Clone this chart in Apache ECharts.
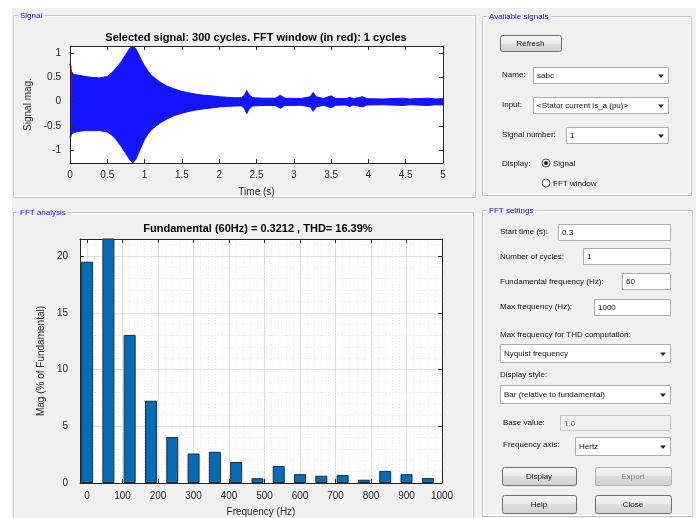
<!DOCTYPE html>
<html><head><meta charset="utf-8">
<script src="https://cdn.jsdelivr.net/npm/echarts@6/dist/echarts.min.js"></script>
<style>
html,body{margin:0;padding:0;background:#fff;overflow:hidden;}
#bg{position:absolute;left:12px;top:8px;width:684px;height:510px;background:#f0f0f0;}
#chart{position:absolute;left:0;top:0;width:696px;height:518px;}
</style></head><body>
<div id="bg"></div><div id="chart"></div>
<script>
// ---- signal envelope (time in s, magnitude) ----
const sigTime  = [0,0.02,0.05,0.1,0.2,0.3,0.4,0.5,0.55,0.6,0.65,0.7,0.75,0.8,0.84,0.88,0.92,0.96,1.0,1.05,1.1,1.2,1.3,1.4,1.5,1.6,1.7,1.8,1.9,2.0,2.1,2.2,2.3,2.34,2.37,2.4,2.45,2.6,2.75,2.82,2.88,3.1,3.22,3.26,3.3,3.4,3.5,3.56,3.7,3.75,3.8,3.92,3.98,4.2,4.47,4.55,4.8,4.9,5.0];
const sigUpper = [0.78,0.62,0.56,0.55,0.52,0.5,0.49,0.52,0.58,0.66,0.75,0.86,0.98,1.1,1.15,1.1,0.98,0.85,0.74,0.62,0.53,0.41,0.32,0.26,0.21,0.18,0.15,0.13,0.12,0.1,0.09,0.08,0.08,0.14,0.23,0.14,0.08,0.07,0.07,0.13,0.07,0.065,0.1,0.19,0.1,0.065,0.12,0.065,0.06,0.09,0.06,0.1,0.06,0.055,0.07,0.055,0.07,0.055,0.06];
const sigLower = [-0.74,-0.68,-0.64,-0.62,-0.6,-0.6,-0.6,-0.63,-0.68,-0.75,-0.85,-0.96,-1.08,-1.2,-1.27,-1.2,-1.06,-0.92,-0.78,-0.66,-0.57,-0.45,-0.36,-0.29,-0.24,-0.2,-0.17,-0.15,-0.13,-0.11,-0.1,-0.09,-0.09,-0.15,-0.25,-0.15,-0.09,-0.08,-0.08,-0.14,-0.08,-0.075,-0.11,-0.2,-0.11,-0.075,-0.13,-0.075,-0.07,-0.1,-0.07,-0.11,-0.07,-0.065,-0.08,-0.065,-0.08,-0.065,-0.07];
// FFT window (in red): 1 cycle
const winTime  = [0, 0.0167];
const winUpper = [0.78, 0.7];
const winLower = [-0.74, -0.7];
// ---- harmonic spectrum (% of fundamental) ----
const harmFreq = [0,60,120,180,240,300,360,420,480,540,600,660,720,780,840,900,960];
const harmMag  = [19.5,100,13.05,7.25,4.05,2.6,2.75,1.85,0.42,1.5,0.78,0.64,0.7,0.29,1.07,0.78,0.43];
// ---- tick labels ----
const timeTicks = [0,0.5,1,1.5,2,2.5,3,3.5,4,4.5,5];
const ampTicks  = [-1,-0.5,0,0.5,1];
const freqTicks = [0,100,200,300,400,500,600,700,800,900,1000];
const magTicks  = [0,5,10,15,20];

const F = '"Liberation Sans", Arial, sans-serif';
const AX = '#262626';
function onlyTicks(list){ return v => list.some(t => Math.abs(t - v) < 1e-9) ? String(v) : ''; }

// ---------- GUI graphics ----------
const G = [];
function panel(x,y,w,h,title){
  G.push({type:'rect', z:5, shape:{x:x+0.5,y:y+0.5,width:w,height:h}, style:{fill:null, stroke:'#c6c6c6', lineWidth:1}});
  G.push({type:'rect', z:5, shape:{x:x+1.5,y:y+1.5,width:w-2,height:h-2}, style:{fill:null, stroke:'#ffffff', lineWidth:1}});
  G.push({type:'text', z:6, x:x+5, y:y+1, style:{text:title, font:'8px '+F, fill:'#2020c0', backgroundColor:'#f0f0f0', padding:[1,2], verticalAlign:'middle'}});
}
function label(x,y,t){ G.push({type:'text', z:6, x:x, y:y, style:{text:t, font:'8px '+F, fill:'#111', verticalAlign:'middle'}}); }
function button(x,y,w,h,t,dis){
  G.push({type:'rect', z:5, shape:{x:x+0.5,y:y+0.5,width:w,height:h,r:2},
    style:{fill:{type:'linear',x:0,y:0,x2:0,y2:1,colorStops:[{offset:0,color:'#f4f4f4'},{offset:0.5,color:'#ebebeb'},{offset:0.5,color:'#dedede'},{offset:1,color:'#d0d0d0'}]},
      stroke: dis ? '#adb2b5' : '#707070', lineWidth:1}});
  G.push({type:'text', z:6, x:x+w/2, y:y+h/2+1, style:{text:t, font:'8px '+F, fill: dis ? '#838383' : '#111', align:'center', verticalAlign:'middle'}});
}
function edit(x,y,w,h,t,dis){
  G.push({type:'rect', z:5, shape:{x:x+0.5,y:y+0.5,width:w,height:h}, style:{fill: dis ? '#f0f0f0' : '#ffffff', stroke: dis ? '#bfc4c9' : '#abadb3', lineWidth:1}});
  G.push({type:'text', z:6, x:x+4, y:y+h/2+1, style:{text:t, font:'8px '+F, fill: dis ? '#6d6d6d' : '#111', verticalAlign:'middle'}});
}
function popup(x,y,w,h,t){
  G.push({type:'rect', z:5, shape:{x:x+0.5,y:y+0.5,width:w,height:h}, style:{fill:'#ffffff', stroke:'#acacac', lineWidth:1}});
  G.push({type:'text', z:6, x:x+4, y:y+h/2+1, style:{text:t, font:'8px '+F, fill:'#111', verticalAlign:'middle'}});
  const cx = x+w-7, cy = y+h/2+1;
  G.push({type:'polygon', z:6, shape:{points:[[cx-3,cy-1.5],[cx+3,cy-1.5],[cx,cy+2]]}, style:{fill:'#222'}});
}
function radio(x,y,t,on){
  G.push({type:'circle', z:5, shape:{cx:x,cy:y,r:4}, style:{fill:'#fff', stroke:'#555', lineWidth:1}});
  if(on) G.push({type:'circle', z:6, shape:{cx:x,cy:y,r:2}, style:{fill:'#222'}});
  label(x+7, y+1, t);
}

panel(13,15,462,182,'Signal');
panel(13,212,460,320,'FFT analysis');
panel(482,16,209,179,'Available signals');
panel(482,210,210,306,'FFT settings');

button(500,35,61,16,'Refresh');
label(502,75,'Name:');           popup(533,67,135,16,'sabc');
label(502,105,'Input:');         popup(533,97,135,16,'<Stator current is_a (pu)>');
label(502,135,'Signal number:'); popup(566,127,102,16,'1');
label(502,164,'Display:');
radio(546,163,'Signal',true);
radio(546,183,'FFT window',false);

label(500,232,'Start time (s):');             edit(558,224,112,16,'0.3');
label(500,257,'Number of cycles:');           edit(583,248,87,16,'1');
label(500,282,'Fundamental frequency (Hz):'); edit(622,273,48,16,'60');
label(500,307,'Max frequency (Hz):');         edit(594,299,76,16,'1000');
label(500,335,'Max frequency for THD computation:');
popup(500,344,170,18,'Nyquist frequency');
label(500,375,'Display style:');
popup(500,385,170,18,'Bar (relative to fundamental)');
label(503,423,'Base value:');                 edit(560,415,110,15,'1.0',true);
label(503,445,'Frequency axis:');             popup(575,437,95,18,'Hertz');
button(502,467,74,18,'Display');
button(595,467,76,18,'Export',true);
button(502,495,74,18,'Help');
button(595,495,76,18,'Close');

// plot titles
G.push({type:'text', z:6, x:256, y:38, style:{text:'Selected signal: 300 cycles. FFT window (in red): 1 cycles', font:'bold 11px '+F, fill:'#000', align:'center', verticalAlign:'middle'}});
G.push({type:'text', z:6, x:258, y:229, style:{text:'Fundamental (60Hz) = 0.3212 , THD= 16.39%', font:'bold 11px '+F, fill:'#000', align:'center', verticalAlign:'middle'}});

// ---------- axes ----------
const tickStyle = {show:true, inside:true, length:4, lineStyle:{color:AX}};
const tickCustom = (list) => ({show:true, inside:true, length:4, lineStyle:{color:AX}, customValues:list});
const lineStyle = {show:true, onZero:false, lineStyle:{color:AX, width:1}};
const lbl = (list) => ({show:true, color:AX, fontSize:10, fontFamily:F, formatter: onlyTicks(list)});
const lblCustom = (list, m) => ({show:true, color:AX, fontSize:10, fontFamily:F, margin:m, customValues:list, formatter: v => String(v)});
const hiddenAx = {axisLine:{show:false, onZero:false}, axisTick:{show:false}, axisLabel:{show:false}};
const nameStyle = {color:AX, fontSize:10, fontFamily:F};

const option = {
  backgroundColor:'transparent',
  animation:false,
  graphic: G,
  grid:[
    {left:70, top:46, width:373, height:117, show:true, backgroundColor:'#fff', borderWidth:0},
    {left:80, top:239, width:362, height:246, show:true, backgroundColor:'#fff', borderWidth:0}
  ],
  xAxis:[
    {gridIndex:0, z:5, type:'value', min:0, max:5, interval:0.5, position:'bottom', axisLine:lineStyle, axisTick:tickStyle, axisLabel:Object.assign(lbl(timeTicks),{margin:7}), splitLine:{show:false},
     name:'Time (s)', nameLocation:'middle', nameGap:24, nameTextStyle:nameStyle},
    {gridIndex:0, z:5, type:'value', min:0, max:5, interval:0.5, position:'top', axisLine:lineStyle, axisTick:tickStyle, axisLabel:{show:false}, splitLine:{show:false}},
    {gridIndex:1, type:'value', min:-20, max:1000, position:'bottom', axisLine:lineStyle, axisTick:tickCustom(freqTicks), axisLabel:lblCustom(freqTicks, 8),
     splitLine:{show:true, lineStyle:{color:'#dcdcdc', width:1}},
     name:'Frequency (Hz)', nameLocation:'middle', nameGap:24, nameTextStyle:nameStyle},
    {gridIndex:1, type:'value', min:-20, max:1000, position:'top', axisLine:lineStyle, axisTick:tickCustom(freqTicks), axisLabel:{show:false}, splitLine:{show:false}},
    Object.assign({gridIndex:1, type:'value', min:-20, max:1000, interval:20, splitLine:{show:true, lineStyle:{color:'#e6e6e6', width:1, type:[1,2]}}}, hiddenAx)
  ],
  yAxis:[
    {gridIndex:0, z:5, type:'value', min:-1.27, max:1.15, position:'left', axisLine:lineStyle, axisTick:tickCustom(ampTicks), axisLabel:lblCustom(ampTicks, 9), splitLine:{show:false},
     name:'Signal mag.', nameLocation:'middle', nameGap:30, nameTextStyle:nameStyle},
    {gridIndex:0, z:5, type:'value', min:-1.27, max:1.15, position:'right', axisLine:lineStyle, axisTick:tickCustom(ampTicks), axisLabel:{show:false}, splitLine:{show:false}},
    {gridIndex:1, type:'value', min:0, max:21.5, interval:5, position:'left', axisLine:lineStyle, axisTick:tickStyle, axisLabel:Object.assign(lbl(magTicks),{margin:12}),
     splitLine:{show:true, lineStyle:{color:'#dcdcdc', width:1}},
     name:'Mag (% of Fundamental)', nameLocation:'middle', nameGap:32, nameTextStyle:nameStyle},
    {gridIndex:1, type:'value', min:0, max:21.5, interval:5, position:'right', axisLine:lineStyle, axisTick:tickStyle, axisLabel:{show:false}, splitLine:{show:false}},
    Object.assign({gridIndex:1, type:'value', min:0, max:21.5, interval:1, splitLine:{show:true, lineStyle:{color:'#e6e6e6', width:1, type:[1,2]}}}, hiddenAx)
  ],
  series:[
    {name:'signal+', type:'line', xAxisIndex:0, yAxisIndex:0, data:sigTime.map((t,i)=>[t,sigUpper[i]]), showSymbol:false, smooth:false,
     lineStyle:{color:'#1010f0', width:1}, areaStyle:{color:'#1414ff', opacity:1, origin:-0.03}, z:1},
    {name:'signal-', type:'line', xAxisIndex:0, yAxisIndex:0, data:sigTime.map((t,i)=>[t,sigLower[i]]), showSymbol:false, smooth:false,
     lineStyle:{color:'#1010f0', width:1}, areaStyle:{color:'#1414ff', opacity:1, origin:0.03}, z:1},
    {name:'window+', type:'line', xAxisIndex:0, yAxisIndex:0, data:winTime.map((t,i)=>[t,winUpper[i]]), showSymbol:false,
     lineStyle:{color:'#ff0000', width:1.5}, areaStyle:{color:'#ff0000', opacity:1, origin:-0.03}, z:2},
    {name:'window-', type:'line', xAxisIndex:0, yAxisIndex:0, data:winTime.map((t,i)=>[t,winLower[i]]), showSymbol:false,
     lineStyle:{color:'#ff0000', width:1.5}, areaStyle:{color:'#ff0000', opacity:1, origin:0.03}, z:2},
    {name:'harmonics', type:'bar', xAxisIndex:2, yAxisIndex:2, data:harmFreq.map((f,i)=>[f,harmMag[i]]), barWidth:12, clip:true,
     itemStyle:{color:'#0b6ab4', borderColor:'#143049', borderWidth:1}, z:1}
  ]
};
const chart = echarts.init(document.getElementById('chart'), null, {renderer:'canvas'});
chart.setOption(option);
</script>
</body></html>
